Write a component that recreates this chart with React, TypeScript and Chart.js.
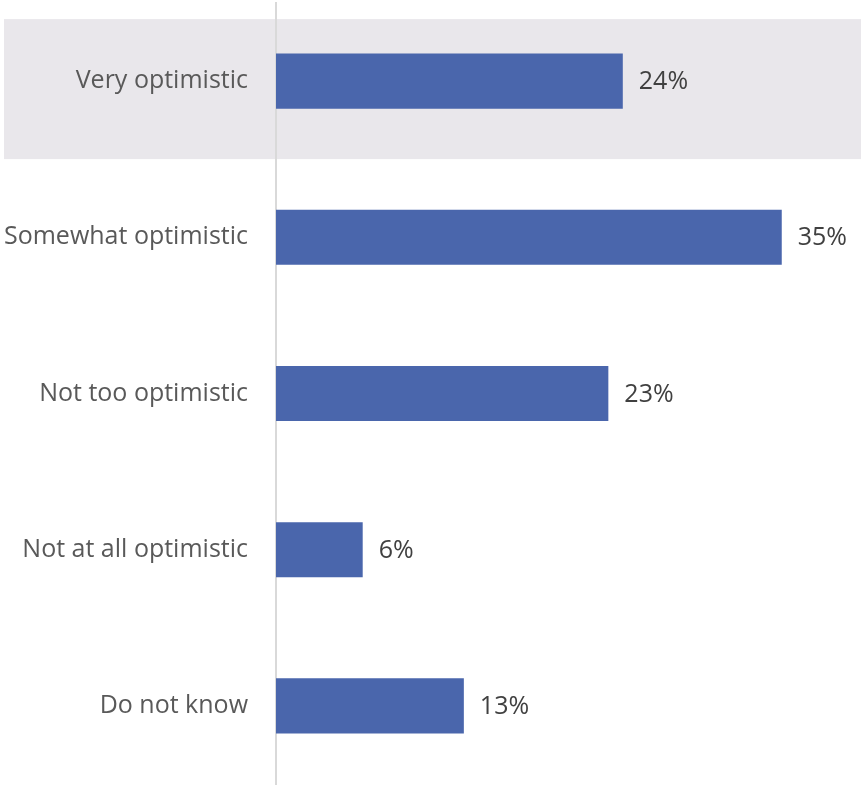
import React, { useEffect, useRef } from "react";
import { Chart, registerables } from "chart.js";

Chart.register(...registerables);

const categories = ["Very optimistic", "Somewhat optimistic", "Not too optimistic", "Not at all optimistic", "Do not know"];
const values = [24, 35, 23, 6, 13];
const highlightIndex = 0;

const FONT = "'Open Sans', 'Noto Sans', sans-serif";

const highlightPlugin = {
  id: "highlightRow",
  beforeDraw(chart: any) {
    const y = chart.scales.y;
    const ctx = chart.ctx;
    const c = y.getPixelForValue(highlightIndex);
    ctx.save();
    ctx.fillStyle = "#E9E7EB";
    ctx.fillRect(4, c - 62, chart.width - 4, 140);
    ctx.restore();
  },
};

const valueLabelPlugin = {
  id: "valueLabels",
  afterDatasetsDraw(chart: any) {
    const ctx = chart.ctx;
    const meta = chart.getDatasetMeta(0);
    ctx.save();
    ctx.font = `25px ${FONT}`;
    ctx.fillStyle = "#404040";
    ctx.textAlign = "left";
    ctx.textBaseline = "middle";
    meta.data.forEach((bar: any, i: number) => {
      ctx.fillText(`${values[i]}%`, bar.x + 16, bar.y + 1);
    });
    ctx.restore();
  },
};

export default function App() {
  const ref = useRef<HTMLCanvasElement>(null);
  useEffect(() => {
    if (!ref.current) return;
    const chart = new Chart(ref.current, {
      type: "bar",
      data: {
        labels: categories,
        datasets: [
          {
            data: values,
            backgroundColor: "#4A66AC",
            borderWidth: 0,
            categoryPercentage: 1,
            barPercentage: 0.353,
          },
        ],
      },
      options: {
        indexAxis: "y",
        animation: false,
        responsive: false,
        layout: { padding: { top: 3, bottom: 1, right: 7, left: 0 } },
        plugins: { legend: { display: false }, tooltip: { enabled: false } },
        scales: {
          x: { display: false, min: 0, max: 40 },
          y: {
            afterFit(scale: any) {
              scale.width = 276;
              scale.paddingTop = 0;
              scale.paddingBottom = 0;
            },
            grid: { display: false, drawTicks: false },
            border: { display: true, color: "#D9D9D9", width: 2 },
            ticks: {
              padding: 28,
              color: "#595959",
              font: { family: FONT, size: 25 },
            },
          },
        },
      },
      plugins: [highlightPlugin, valueLabelPlugin],
    });
    return () => chart.destroy();
  }, []);
  return (
    <div style={{ position: "fixed", left: 0, top: 0, width: 861, height: 785, background: "#fff" }}>
      <canvas ref={ref} width={861} height={785} style={{ display: "block" }} />
    </div>
  );
}
